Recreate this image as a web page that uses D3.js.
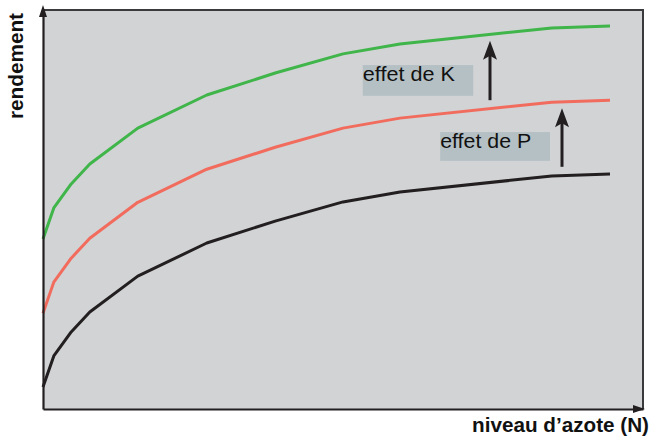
<!DOCTYPE html>
<html>
<head>
<meta charset="utf-8">
<script src="https://cdn.jsdelivr.net/npm/d3@7"></script>
<style>
  html, body { margin: 0; padding: 0; background: #ffffff; }
  svg { display: block; }
  text { font-family: Arial, "Liberation Sans", Helvetica, sans-serif; }
</style>
</head>
<body>
<svg id="chart" width="654" height="440"></svg>
<script>
// ---- data ----
const nitrogen   = [0, 1.8, 4.7, 7.8, 15.8, 27.3, 38.7, 50, 59.5, 84.8, 94.5];
const yieldN     = [5.5, 13.3, 19.3, 24.3, 33.3, 41.6, 47.1, 51.9, 54.4, 58.4, 58.9];
const yieldNP    = [24.0, 31.8, 37.8, 42.8, 51.8, 60.1, 65.6, 70.4, 72.9, 76.9, 77.4];
const yieldNPK   = [42.6, 50.4, 56.4, 61.4, 70.4, 78.7, 84.2, 89.0, 91.5, 95.5, 96.0];
const seriesNames = ["N", "NP", "NPK"];
const annotationLabels = ["effet de K", "effet de P"];
const axisLabels = { x: "niveau d\u2019azote (N)", y: "rendement" };

// ---- layout ----
const svg = d3.select("#chart");
const pLeft = 43, pRight = 643, pTop = 10, pBottom = 409;
const x = d3.scaleLinear().domain([0, 100]).range([pLeft, pRight]);
const y = d3.scaleLinear().domain([0, 100]).range([pBottom, pTop]);

// plot background
svg.append("rect")
  .attr("x", pLeft).attr("y", pTop)
  .attr("width", pRight - pLeft).attr("height", pBottom - pTop)
  .attr("fill", "#d1d3d5");

// top and right frame
svg.append("path")
  .attr("d", `M${pLeft},${pTop}H${pRight}V${pBottom}`)
  .attr("fill", "none").attr("stroke", "#3a3a3c").attr("stroke-width", 2);

// series lines
const colors = { N: "#231f20", NP: "#f26c5e", NPK: "#3fb54a" };
const seriesData = { N: yieldN, NP: yieldNP, NPK: yieldNPK };
const line = d3.line().x(d => x(d[0])).y(d => y(d[1]));
seriesNames.forEach(name => {
  const pts = nitrogen.map((n, i) => [n, seriesData[name][i]]);
  svg.append("path")
    .datum(pts)
    .attr("d", line)
    .attr("fill", "none")
    .attr("stroke", colors[name])
    .attr("stroke-width", 3)
    .attr("stroke-linejoin", "round");
});

// axes (domain lines only)
const xAxis = svg.append("g").attr("transform", `translate(0,${pBottom})`)
  .call(d3.axisBottom(x).ticks(0).tickSizeOuter(0));
const yAxis = svg.append("g").attr("transform", `translate(${pLeft},0)`)
  .call(d3.axisLeft(y).ticks(0).tickSizeOuter(0));
[xAxis, yAxis].forEach(g => g.select(".domain")
  .attr("stroke", "#231f20").attr("stroke-width", 2.2));
// extend y axis upward and x axis to the right with arrowheads
svg.append("line").attr("x1", pLeft).attr("x2", pLeft)
  .attr("y1", pTop).attr("y2", 14)
  .attr("stroke", "#231f20").attr("stroke-width", 2.2);
svg.append("path")
  .attr("d", `M${pLeft},5L${pLeft + 4},17L${pLeft - 4},17Z`)
  .attr("fill", "#231f20");
svg.append("path")
  .attr("d", `M${pRight + 2},${pBottom}L${pRight - 10},${pBottom - 4}L${pRight - 10},${pBottom + 4}Z`)
  .attr("fill", "#231f20");

// annotations: label boxes + arrows (positions in data units)
const annBoxes = [
  { x0: 53.3, x1: 71.7, y0: 86.2, y1: 78.5, tx: 53.3, ty: 82.2, len: 92 },
  { x0: 66.2, x1: 84.5, y0: 69.4, y1: 62.2, tx: 66.2, ty: 65.4, len: 91 }
];
const annArrows = [
  { x: 74.5, y0: 77.4, y1: 92.3 },
  { x: 86.5, y0: 60.7, y1: 75.4 }
];
annotationLabels.forEach((lab, i) => {
  const b = annBoxes[i];
  svg.append("rect")
    .attr("x", x(b.x0)).attr("y", y(b.y0))
    .attr("width", x(b.x1) - x(b.x0)).attr("height", y(b.y1) - y(b.y0))
    .attr("fill", "#b5c0c4");
  svg.append("text")
    .attr("x", x(b.tx)).attr("y", y(b.ty))
    .attr("font-size", 20.5)
    .attr("textLength", b.len).attr("lengthAdjust", "spacingAndGlyphs")
    .attr("fill", "#111")
    .text(lab);
  const a = annArrows[i];
  const ax = x(a.x), yb = y(a.y0), yt = y(a.y1);
  svg.append("line").attr("x1", ax).attr("x2", ax)
    .attr("y1", yb).attr("y2", yt + 14)
    .attr("stroke", "#231f20").attr("stroke-width", 3);
  svg.append("path")
    .attr("d", `M${ax},${yt}L${ax + 7},${yt + 19}L${ax},${yt + 15}L${ax - 7},${yt + 19}Z`)
    .attr("fill", "#231f20");
});

// axis titles
svg.append("text")
  .attr("x", 649).attr("y", 432)
  .attr("text-anchor", "end")
  .attr("font-size", 20.5).attr("font-weight", "bold")
  .attr("textLength", 177).attr("lengthAdjust", "spacingAndGlyphs")
  .attr("fill", "#111")
  .text(axisLabels.x);
svg.append("text")
  .attr("transform", "translate(23,119) rotate(-90)")
  .attr("font-size", 21).attr("font-weight", "bold")
  .attr("textLength", 106).attr("lengthAdjust", "spacingAndGlyphs")
  .attr("fill", "#111")
  .text(axisLabels.y);
</script>
</body>
</html>
